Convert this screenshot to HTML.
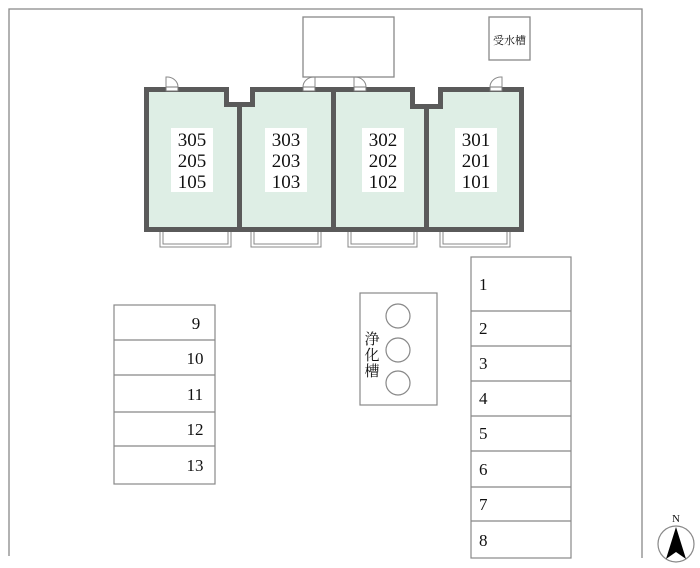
<!DOCTYPE html>
<html><head><meta charset="utf-8"><style>
html,body{margin:0;padding:0;background:#fff;}
svg{display:block;}
text{font-family:"Liberation Serif","Noto Serif CJK SC",serif;fill:#111;}
</style></head><body>
<svg width="700" height="568" viewBox="0 0 700 568" xmlns="http://www.w3.org/2000/svg">
<g fill="none" stroke="#888" stroke-width="1.3">
<polyline points="9,556 9,9 642,9 642,558"/>
<rect x="303" y="17" width="91" height="60" fill="#fff"/>
<rect x="489" y="17" width="41" height="43"/>
</g>
<text x="509.5" y="44" font-size="11" text-anchor="middle" font-family="Noto Sans CJK SC,sans-serif">受水槽</text>
<!-- building -->
<path d="M144,87 H229 V102 H250 V87 H415 V104 H438 V87 H524 V232 H144 Z" fill="#5a5a5a"/>
<path d="M149,92 H224 V107 H255 V92 H410 V109 H443 V92 H519 V227 H149 Z" fill="#deeee5"/>
<g fill="#5a5a5a">
<rect x="237" y="104" width="5" height="125"/>
<rect x="331" y="90" width="5" height="139"/>
<rect x="424" y="106" width="5" height="123"/>
</g>
<!-- doors -->
<g fill="#fff" stroke="#777" stroke-width="1">
<rect x="166" y="87" width="12" height="4"/>
<rect x="303" y="87" width="12" height="4"/>
<rect x="354" y="87" width="12" height="4"/>
<rect x="490" y="87" width="12" height="4"/>
</g>
<g fill="none" stroke="#888" stroke-width="1">
<path d="M166,87 V77 A11,10 0 0 1 178,87"/>
<path d="M315,87 V77 A11,10 0 0 0 303,87"/>
<path d="M354,87 V77 A11,10 0 0 1 366,87"/>
<path d="M502,87 V77 A11,10 0 0 0 490,87"/>
</g>
<!-- balconies -->
<g fill="none" stroke="#888" stroke-width="1">
<path d="M160,232 V247 H231 V232 M163,232 V244 H228 V232"/>
<path d="M251,232 V247 H321 V232 M254,232 V244 H318 V232"/>
<path d="M348,232 V247 H417 V232 M351,232 V244 H414 V232"/>
<path d="M440,232 V247 H510 V232 M443,232 V244 H507 V232"/>
</g>
<!-- labels -->
<g fill="#fff">
<rect x="171" y="128" width="42" height="64"/>
<rect x="265" y="128" width="42" height="64"/>
<rect x="362" y="128" width="42" height="64"/>
<rect x="455" y="128" width="42" height="64"/>
</g>
<g font-size="19" text-anchor="middle">
<text x="192" y="146">305</text><text x="192" y="167">205</text><text x="192" y="188">105</text>
<text x="286" y="146">303</text><text x="286" y="167">203</text><text x="286" y="188">103</text>
<text x="383" y="146">302</text><text x="383" y="167">202</text><text x="383" y="188">102</text>
<text x="476" y="146">301</text><text x="476" y="167">201</text><text x="476" y="188">101</text>
</g>
<!-- left parking -->
<g fill="none" stroke="#888" stroke-width="1.2">
<rect x="114" y="305" width="101" height="179"/>
<path d="M114,340 H215 M114,375 H215 M114,412 H215 M114,446 H215"/>
</g>
<g font-size="17" text-anchor="middle">
<text x="196" y="329">9</text><text x="195" y="364">10</text><text x="195" y="400">11</text><text x="195" y="435">12</text><text x="195" y="471">13</text>
</g>
<!-- septic -->
<g fill="none" stroke="#888" stroke-width="1.2">
<rect x="360" y="293" width="77" height="112"/>
<circle cx="398" cy="316" r="12"/><circle cx="398" cy="350" r="12"/><circle cx="398" cy="383" r="12"/>
</g>
<g font-size="15" text-anchor="middle" font-family="Noto Serif CJK SC,serif">
<text x="372" y="344">浄</text><text x="372" y="360">化</text><text x="372" y="376">槽</text>
</g>
<!-- right parking -->
<g fill="none" stroke="#888" stroke-width="1.2">
<rect x="471" y="257" width="100" height="301"/>
<path d="M471,311 H571 M471,346 H571 M471,381 H571 M471,416 H571 M471,451 H571 M471,487 H571 M471,521 H571"/>
</g>
<g font-size="17">
<text x="479" y="290">1</text><text x="479" y="334">2</text><text x="479" y="369">3</text><text x="479" y="404">4</text><text x="479" y="439">5</text><text x="479" y="475">6</text><text x="479" y="510">7</text><text x="479" y="546">8</text>
</g>
<!-- compass -->
<circle cx="676" cy="544" r="18" fill="none" stroke="#888" stroke-width="1.2"/>
<path d="M676,527 L666,559 L676,552 L686,559 Z" fill="#000"/>
<text x="676" y="522" font-size="11" text-anchor="middle">N</text>
</svg>
</body></html>
